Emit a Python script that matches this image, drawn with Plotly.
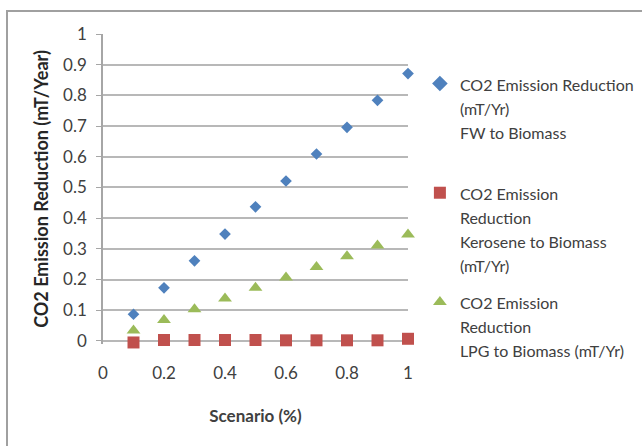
import plotly.graph_objects as go

scenario = [0.1, 0.2, 0.3, 0.4, 0.5, 0.6, 0.7, 0.8, 0.9, 1.0]
fw_to_biomass = [0.087, 0.173, 0.261, 0.348, 0.437, 0.521, 0.609, 0.696, 0.784, 0.871]
kerosene_to_biomass = [-0.005, 0.003, 0.003, 0.003, 0.003, 0.002, 0.002, 0.002, 0.002, 0.007]
lpg_to_biomass = [0.034, 0.068, 0.103, 0.138, 0.173, 0.207, 0.241, 0.276, 0.311, 0.347]

legend_lines = [
    ["CO2 Emission Reduction", "(mT/Yr)", "FW to Biomass", " "],
    ["CO2 Emission", "Reduction", "Kerosene to Biomass", "(mT/Yr)"],
    ["CO2 Emission", "Reduction", "LPG to Biomass (mT/Yr)"],
]
x_ticks = [0, 0.2, 0.4, 0.6, 0.8, 1]
y_ticks = [0, 0.1, 0.2, 0.3, 0.4, 0.5, 0.6, 0.7, 0.8, 0.9, 1]


def legend_name(lines):
    return "<br>".join('<span style="font-size:16px">%s</span>' % s for s in lines)


FONT = "Lato"
fig = go.Figure()
fig.add_trace(go.Scatter(x=scenario, y=fw_to_biomass, mode="markers",
                         name=legend_name(legend_lines[0]),
                         marker=dict(symbol="diamond", size=9, color="#4F81BD"),
                         cliponaxis=False, legendgroup="a"))
fig.add_trace(go.Scatter(x=scenario, y=kerosene_to_biomass, mode="markers",
                         name=legend_name(legend_lines[1]),
                         marker=dict(symbol="square", size=12, color="#C0504D"),
                         cliponaxis=False, legendgroup="b"))
fig.add_trace(go.Scatter(x=scenario, y=lpg_to_biomass, mode="markers",
                         name=legend_name(legend_lines[2]),
                         marker=dict(symbol="triangle-up", size=12, color="#9BBB59"),
                         cliponaxis=False, legendgroup="c"))

fig.update_layout(
    width=642, height=446, autosize=False,
    margin=dict(l=103, r=234, t=34, b=102, autoexpand=False),
    paper_bgcolor="white", plot_bgcolor="white",
    font=dict(family=FONT, size=17, color="#404040"),
    showlegend=True,
    legend=dict(x=1.039, y=0.90, xanchor="left", yanchor="top",
                font=dict(family=FONT, size=18.5, color="#404040"),
                valign="top", tracegroupgap=10, itemsizing="constant"),
    xaxis=dict(range=[0, 1], tickvals=x_ticks, ticktext=[str(v) for v in x_ticks],
               showgrid=False, zeroline=False, showline=False, ticks="",
               ticklabelstandoff=17,
               title=dict(text="<b>Scenario (%)</b>", font=dict(size=17, color="#404040"),
                          standoff=28)),
    yaxis=dict(range=[-0.01, 1], tickvals=y_ticks, ticktext=[str(v) for v in y_ticks],
               showgrid=True, gridcolor="#b8b8b8", gridwidth=1.5,
               zeroline=False, showline=True, linecolor="#a6a6a6", linewidth=1.5,
               ticks="outside", ticklen=5, tickcolor="#a6a6a6", ticklabelstandoff=6,
               title=dict(text="<b>CO2 Emission Reduction (mT/Year)</b>",
                          font=dict(size=18, color="#262626"), standoff=10)),
    shapes=[dict(type="rect", xref="paper", yref="paper",
                 x0=(7 - 103) / 305, x1=2.0, y0=-1.0, y1=(344 - 11) / 310,
                 line=dict(color="#a0a0a0", width=2), layer="below")],
)

fig.write_html("out.html")
